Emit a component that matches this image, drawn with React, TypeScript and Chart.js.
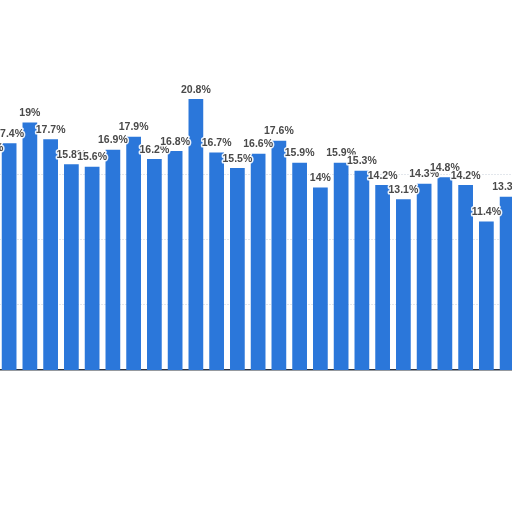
import { useEffect, useRef } from "react"
import { Chart, registerables, type ChartConfiguration, type Plugin } from "chart.js"

Chart.register(...registerables)

// categories (the picture only shows a slice of a longer series, the x labels are cut off)
const categories = [
  "1995", "1996", "1997", "1998", "1999", "2000", "2001", "2002", "2003",
  "2004", "2005", "2006", "2007", "2008", "2009", "2010", "2011", "2012",
  "2013", "2014", "2015", "2016", "2017", "2018", "2019", "2020",
]
// share in %
const shares = [
  16.3, 17.4, 19, 17.7, 15.8, 15.6, 16.9, 17.9, 16.2, 16.8, 20.8, 16.7, 15.5,
  16.6, 17.6, 15.9, 14, 15.9, 15.3, 14.2, 13.1, 14.3, 14.8, 14.2, 11.4, 13.3,
]
// only these grid lines are visible in the picture
const yTicks = [5, 10, 15]

const BLUE = "#2b77da"

const valueLabels: Plugin<"bar"> = {
  id: "valueLabels",
  afterDatasetsDraw(chart) {
    const { ctx } = chart
    const meta = chart.getDatasetMeta(0)
    ctx.save()
    ctx.font = "bold 10.5px 'Liberation Sans', Arial, sans-serif"
    ctx.textAlign = "center"
    ctx.textBaseline = "bottom"
    ctx.lineJoin = "round"
    meta.data.forEach((bar, i) => {
      const txt = `${shares[i]}%`
      const { x, y } = bar.getProps(["x", "y"], true)
      ctx.strokeStyle = "rgba(255,255,255,0.9)"
      ctx.lineWidth = 3
      ctx.strokeText(txt, x, y - 4)
      ctx.fillStyle = "#4a4a4a"
      ctx.fillText(txt, x, y - 4)
    })
    ctx.restore()
  },
}

export default function App() {
  const canvasRef = useRef<HTMLCanvasElement>(null)
  const chartRef = useRef<Chart | null>(null)

  useEffect(() => {
    if (!canvasRef.current) return
    chartRef.current?.destroy()

    const cfg: ChartConfiguration<"bar"> = {
      type: "bar",
      data: {
        labels: categories,
        datasets: [{
          data: shares,
          backgroundColor: BLUE,
          borderWidth: 0,
          barPercentage: 0.71,
          categoryPercentage: 1,
        }],
      },
      options: {
        responsive: true,
        maintainAspectRatio: false,
        animation: false,
        layout: { padding: { top: 44.25, bottom: 142, left: 0, right: 0 } },
        plugins: {
          legend: { display: false },
          tooltip: { enabled: false },
        },
        scales: {
          x: {
            ticks: { display: false },
            grid: { display: false, drawTicks: false },
            border: { display: true, color: "#2d3440", width: 1.5 },
          },
          y: {
            min: 0,
            max: 25,
            afterBuildTicks: (axis) => { axis.ticks = yTicks.map((v) => ({ value: v })) },
            ticks: { display: false },
            grid: { color: "#e3e7ec", lineWidth: 1, drawTicks: false },
            border: { display: false, dash: [2, 1] },
          },
        },
      },
      plugins: [valueLabels],
    }
    chartRef.current = new Chart(canvasRef.current, cfg)
    return () => { chartRef.current?.destroy() }
  }, [])

  return (
    <div style={{ position: "fixed", left: 0, top: 0, width: 512, height: 512, overflow: "hidden", background: "#fff" }}>
      <div style={{ position: "absolute", left: -22.5, top: 0, width: 539.5, height: 512 }}>
        <canvas ref={canvasRef} />
      </div>
    </div>
  )
}
